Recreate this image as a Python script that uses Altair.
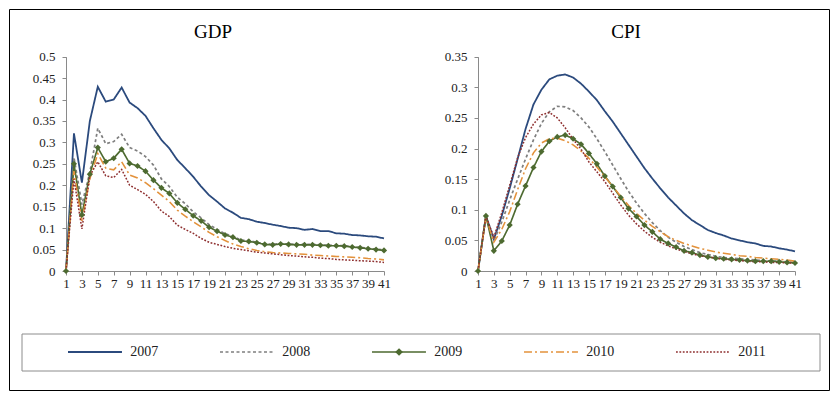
import altair as alt
import pandas as pd

periods = list(range(1, 42))
years = ["2007", "2008", "2009", "2010", "2011"]
panel_titles = ["GDP", "CPI"]

gdp_2007 = [0, 0.321, 0.206, 0.350, 0.430, 0.395, 0.400, 0.428, 0.393, 0.380,
            0.362, 0.333, 0.306, 0.286, 0.259, 0.240, 0.220, 0.197, 0.177, 0.162,
            0.146, 0.136, 0.124, 0.121, 0.115, 0.112, 0.108, 0.105, 0.101, 0.100,
            0.096, 0.098, 0.093, 0.093, 0.088, 0.087, 0.084, 0.083, 0.081, 0.080, 0.076]
gdp_2008 = [0, 0.265, 0.155, 0.230, 0.333, 0.297, 0.302, 0.319, 0.288, 0.280,
            0.267, 0.247, 0.215, 0.197, 0.172, 0.157, 0.138, 0.124, 0.108, 0.097,
            0.087, 0.081, 0.072, 0.071, 0.067, 0.063, 0.062, 0.064, 0.063, 0.062,
            0.062, 0.062, 0.061, 0.060, 0.060, 0.059, 0.057, 0.055, 0.053, 0.051, 0.049]
gdp_2009 = [0, 0.250, 0.131, 0.226, 0.288, 0.255, 0.263, 0.284, 0.251, 0.245,
            0.233, 0.212, 0.194, 0.181, 0.159, 0.144, 0.129, 0.117, 0.102, 0.093,
            0.084, 0.079, 0.070, 0.069, 0.066, 0.062, 0.061, 0.063, 0.062, 0.061,
            0.061, 0.061, 0.060, 0.059, 0.059, 0.058, 0.056, 0.054, 0.052, 0.050, 0.048]
gdp_2010 = [0, 0.233, 0.117, 0.215, 0.274, 0.240, 0.236, 0.255, 0.224, 0.217,
            0.206, 0.192, 0.177, 0.162, 0.142, 0.128, 0.115, 0.103, 0.090, 0.080,
            0.071, 0.063, 0.057, 0.052, 0.048, 0.045, 0.043, 0.042, 0.041, 0.040,
            0.039, 0.037, 0.036, 0.035, 0.034, 0.033, 0.032, 0.031, 0.029, 0.028, 0.026]
gdp_2011 = [0, 0.215, 0.098, 0.222, 0.255, 0.222, 0.218, 0.237, 0.200, 0.190,
            0.179, 0.162, 0.140, 0.127, 0.107, 0.097, 0.088, 0.076, 0.067, 0.062,
            0.057, 0.053, 0.050, 0.047, 0.044, 0.042, 0.040, 0.038, 0.036, 0.035,
            0.033, 0.032, 0.030, 0.029, 0.027, 0.026, 0.025, 0.024, 0.023, 0.022, 0.020]

cpi_2007 = [0, 0.090, 0.052, 0.090, 0.135, 0.183, 0.232, 0.272, 0.296, 0.313,
            0.319, 0.321, 0.316, 0.306, 0.293, 0.279, 0.261, 0.244, 0.225, 0.206,
            0.187, 0.168, 0.151, 0.135, 0.120, 0.107, 0.094, 0.083, 0.075, 0.067,
            0.062, 0.058, 0.053, 0.050, 0.047, 0.045, 0.041, 0.040, 0.037, 0.035, 0.032]
cpi_2008 = [0, 0.090, 0.050, 0.080, 0.116, 0.150, 0.183, 0.214, 0.241, 0.260,
            0.269, 0.268, 0.262, 0.250, 0.235, 0.216, 0.195, 0.173, 0.151, 0.130,
            0.111, 0.094, 0.079, 0.066, 0.055, 0.047, 0.040, 0.035, 0.030, 0.027,
            0.024, 0.022, 0.021, 0.020, 0.019, 0.018, 0.017, 0.016, 0.016, 0.015, 0.014]
cpi_2009 = [0, 0.090, 0.033, 0.049, 0.075, 0.109, 0.139, 0.169, 0.195, 0.212,
            0.219, 0.222, 0.216, 0.207, 0.192, 0.175, 0.155, 0.138, 0.120, 0.102,
            0.089, 0.075, 0.064, 0.052, 0.045, 0.039, 0.033, 0.030, 0.026, 0.023,
            0.021, 0.020, 0.019, 0.018, 0.017, 0.016, 0.016, 0.016, 0.015, 0.014, 0.013]
cpi_2010 = [0, 0.088, 0.047, 0.068, 0.097, 0.133, 0.167, 0.193, 0.209, 0.216,
            0.217, 0.213, 0.206, 0.196, 0.184, 0.170, 0.154, 0.138, 0.122, 0.107,
            0.094, 0.083, 0.073, 0.064, 0.056, 0.050, 0.045, 0.041, 0.037, 0.034,
            0.031, 0.029, 0.027, 0.025, 0.024, 0.022, 0.021, 0.020, 0.019, 0.018, 0.016]
cpi_2011 = [0, 0.090, 0.055, 0.095, 0.140, 0.185, 0.218, 0.240, 0.255, 0.259,
            0.250, 0.234, 0.215, 0.199, 0.178, 0.162, 0.146, 0.127, 0.108, 0.091,
            0.077, 0.065, 0.055, 0.047, 0.041, 0.036, 0.032, 0.028, 0.025, 0.023,
            0.021, 0.019, 0.018, 0.017, 0.016, 0.015, 0.015, 0.014, 0.014, 0.013, 0.013]

gdp_ticks = [0, 0.05, 0.1, 0.15, 0.2, 0.25, 0.3, 0.35, 0.4, 0.45, 0.5]
cpi_ticks = [0, 0.05, 0.1, 0.15, 0.2, 0.25, 0.3, 0.35]
x_ticks = list(range(1, 42, 2))

colors = ["#2b4a7d", "#7f7f7f", "#4d6a30", "#e3923c", "#8e2f2f"]
dashes = [[1, 0], [3, 2.5], [1, 0], [8, 3, 2, 3], [1.8, 1.6]]
widths = [1.8, 1.5, 2.0, 1.8, 2.0]

gdp = dict(zip(years, [gdp_2007, gdp_2008, gdp_2009, gdp_2010, gdp_2011]))
cpi = dict(zip(years, [cpi_2007, cpi_2008, cpi_2009, cpi_2010, cpi_2011]))
rows = []
for yr in years:
    for i, p in enumerate(periods):
        rows.append({"period": p, "year": yr, "gdp": gdp[yr][i], "cpi": cpi[yr][i]})
df = pd.DataFrame(rows)

W, H = 820, 381
FONT = "Liberation Serif"
Y0, Y1 = 262, 47.7

color = alt.Color("year:N", scale=alt.Scale(domain=years, range=colors), legend=None)
dash = alt.StrokeDash("year:N", scale=alt.Scale(domain=years, range=dashes), legend=None)
sw = alt.StrokeWidth("year:O", scale=alt.Scale(domain=years, range=widths), legend=None)

axis_common = dict(domainColor="#8a8a8a", tickColor="#8a8a8a", labelColor="#222222",
                   labelFont=FONT, labelFontSize=13, tickSize=4, grid=False, title=None)


def panel(field, ymax, yvals, xr, yoff):
    x = alt.X("period:Q",
              scale=alt.Scale(domain=[1, 41], range=xr, nice=False, zero=False),
              axis=alt.Axis(orient="bottom", offset=Y0 - H, values=x_ticks,
                            labelOverlap=False, labelFlush=False, labelPadding=2,
                            **axis_common))
    y = alt.Y(f"{field}:Q",
              scale=alt.Scale(domain=[0, ymax], range=[Y0, Y1], nice=False),
              axis=alt.Axis(orient="left", offset=yoff, values=yvals, format="~g",
                            labelPadding=7, labelFlush=False, labelOverlap=False,
                            **axis_common))
    lines = alt.Chart(df).mark_line().encode(x=x, y=y, color=color,
                                             strokeDash=dash, strokeWidth=sw)
    pts = (alt.Chart(df).transform_filter(alt.datum.year == "2009")
           .mark_point(shape="diamond", filled=True, size=38, opacity=1)
           .encode(x=x, y=y, color=color))
    return alt.layer(lines, pts)


left = panel("gdp", 0.5, gdp_ticks, [57, 375], -57)
right = panel("cpi", 0.35, cpi_ticks, [469, 786], -469)

leg_df = pd.DataFrame({"year": years, "slot": [0, 1, 2, 3, 4]})
lscale = alt.Scale(domain=[0, 4], range=[59, 667], nice=False, zero=False)
LY = 343
leg_lines = (alt.Chart(leg_df).transform_calculate(end="datum.slot + 0.355")
             .mark_rule()
             .encode(x=alt.X("slot:Q", scale=lscale, axis=None), x2="end:Q",
                     y=alt.value(LY), color=color, strokeDash=dash, strokeWidth=sw))
leg_dia = (alt.Chart(leg_df).transform_filter(alt.datum.year == "2009")
           .transform_calculate(mid="datum.slot + 0.178")
           .mark_point(shape="diamond", filled=True, size=60, opacity=1)
           .encode(x=alt.X("mid:Q", scale=lscale, axis=None), y=alt.value(LY), color=color))
leg_txt = (alt.Chart(leg_df).transform_calculate(tx="datum.slot + 0.41")
           .mark_text(align="left", baseline="middle", font=FONT, fontSize=14, color="#222222")
           .encode(x=alt.X("tx:Q", scale=lscale, axis=None), y=alt.value(LY), text="year:N"))
legend = alt.layer(leg_lines, leg_dia, leg_txt)

box = (alt.Chart(pd.DataFrame({"k": [0]}))
       .mark_rect(fillOpacity=0, stroke="#8c8c8c", strokeWidth=1)
       .encode(x=alt.value(13), x2=alt.value(811), y=alt.value(325), y2=alt.value(362)))

t_left = (alt.Chart(pd.DataFrame({"t": [panel_titles[0]]}))
          .mark_text(font=FONT, fontSize=19, color="black", baseline="alphabetic", align="center")
          .encode(x=alt.value(204), y=alt.value(29), text="t:N"))
t_right = (alt.Chart(pd.DataFrame({"t": [panel_titles[1]]}))
           .mark_text(font=FONT, fontSize=19, color="black", baseline="alphabetic", align="center")
           .encode(x=alt.value(617), y=alt.value(29), text="t:N"))

chart = (alt.layer(left, right, legend, box, t_left, t_right)
         .resolve_scale(x="independent", y="independent")
         .properties(width=W, height=H, padding=1,
                     autosize=alt.AutoSizeParams(type="none"), background="white")
         .configure_view(stroke="black", strokeWidth=1))

chart.save("out.html", embed_options={"renderer": "svg", "actions": False})
